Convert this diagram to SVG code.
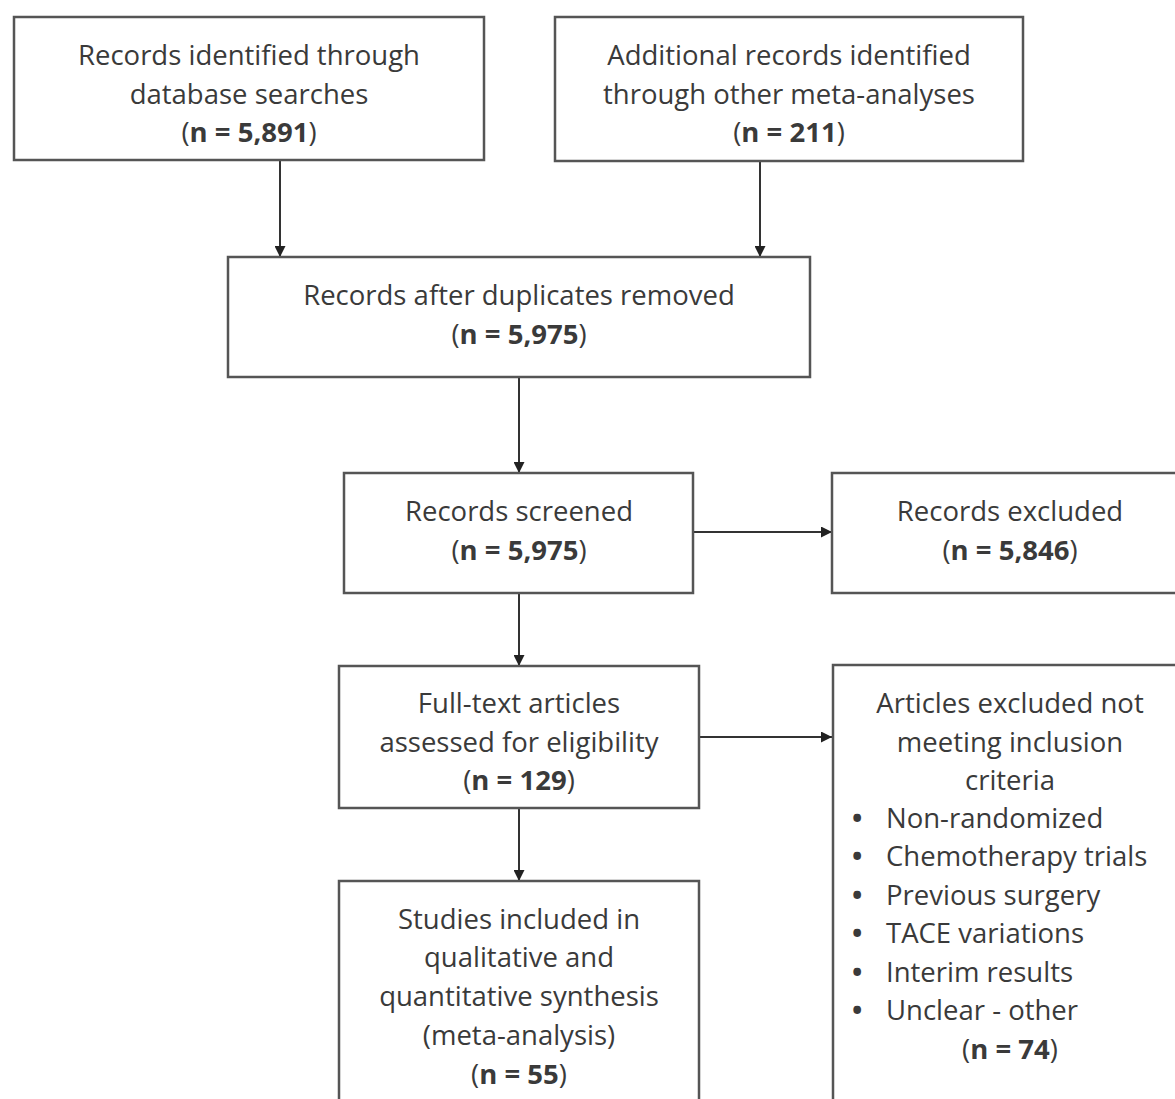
<svg xmlns="http://www.w3.org/2000/svg" width="1175" height="1099" viewBox="0 0 1175 1099">
<defs>
<marker id="ah" viewBox="0 0 10 10" refX="10" refY="5" markerWidth="5.5" markerHeight="5.5" orient="auto" markerUnits="strokeWidth">
<path d="M0,0 L10,5 L0,10 z" fill="#222"/>
</marker>
<style>
.box{fill:#fff;stroke:#555;stroke-width:2.5}
.t{font-family:"Open Sans",Lato,"Liberation Sans",sans-serif;font-size:27.5px;fill:#3a3a3a;text-anchor:middle}
.l{text-anchor:start}
.b{font-weight:bold}
.c{stroke:#333;stroke-width:2;fill:none;marker-end:url(#ah)}
</style>
</defs>
<rect width="1175" height="1099" fill="#fff"/>
<g id="connectors">
<line class="c" x1="280" y1="161" x2="280" y2="257"/>
<line class="c" x1="760" y1="161" x2="760" y2="257"/>
<line class="c" x1="519" y1="377" x2="519" y2="473"/>
<line class="c" x1="693" y1="532" x2="832" y2="532"/>
<line class="c" x1="519" y1="593" x2="519" y2="666"/>
<line class="c" x1="699" y1="737" x2="832" y2="737"/>
<line class="c" x1="519" y1="808" x2="519" y2="881"/>
</g>
<g id="n1">
<rect class="box" x="14" y="17" width="470" height="143"/>
<text class="t" x="249" y="65">Records identified through</text>
<text class="t" x="249" y="104">database searches</text>
<text class="t" x="249" y="142">(<tspan class="b">n = 5,891</tspan>)</text>
</g>
<g id="n2">
<rect class="box" x="555" y="17" width="468" height="144"/>
<text class="t" x="789" y="65">Additional records identified</text>
<text class="t" x="789" y="104">through other meta-analyses</text>
<text class="t" x="789" y="142">(<tspan class="b">n = 211</tspan>)</text>
</g>
<g id="n3">
<rect class="box" x="228" y="257" width="582" height="120"/>
<text class="t" x="519" y="305">Records after duplicates removed</text>
<text class="t" x="519" y="344">(<tspan class="b">n = 5,975</tspan>)</text>
</g>
<g id="n4">
<rect class="box" x="344" y="473" width="349" height="120"/>
<text class="t" x="519" y="521">Records screened</text>
<text class="t" x="519" y="560">(<tspan class="b">n = 5,975</tspan>)</text>
</g>
<g id="n5">
<rect class="box" x="832" y="473" width="360" height="120"/>
<text class="t" x="1010" y="521">Records excluded</text>
<text class="t" x="1010" y="560">(<tspan class="b">n = 5,846</tspan>)</text>
</g>
<g id="n6">
<rect class="box" x="339" y="666" width="360" height="142"/>
<text class="t" x="519" y="713">Full-text articles</text>
<text class="t" x="519" y="752">assessed for eligibility</text>
<text class="t" x="519" y="790">(<tspan class="b">n = 129</tspan>)</text>
</g>
<g id="n7">
<rect class="box" x="833" y="665" width="360" height="450"/>
<text class="t" x="1010" y="713">Articles excluded not</text>
<text class="t" x="1010" y="752">meeting inclusion</text>
<text class="t" x="1010" y="790">criteria</text>
<text class="t l b" x="852" y="828">•</text><text class="t l" x="886" y="828">Non-randomized</text>
<text class="t l b" x="852" y="866">•</text><text class="t l" x="886" y="866">Chemotherapy trials</text>
<text class="t l b" x="852" y="905">•</text><text class="t l" x="886" y="905">Previous surgery</text>
<text class="t l b" x="852" y="943">•</text><text class="t l" x="886" y="943">TACE variations</text>
<text class="t l b" x="852" y="982">•</text><text class="t l" x="886" y="982">Interim results</text>
<text class="t l b" x="852" y="1020">•</text><text class="t l" x="886" y="1020">Unclear - other</text>
<text class="t" x="1010" y="1059">(<tspan class="b">n = 74</tspan>)</text>
</g>
<g id="n8">
<rect class="box" x="339" y="881" width="360" height="240"/>
<text class="t" x="519" y="929">Studies included in</text>
<text class="t" x="519" y="967">qualitative and</text>
<text class="t" x="519" y="1006">quantitative synthesis</text>
<text class="t" x="519" y="1045">(meta-analysis)</text>
<text class="t" x="519" y="1084">(<tspan class="b">n = 55</tspan>)</text>
</g>
</svg>
